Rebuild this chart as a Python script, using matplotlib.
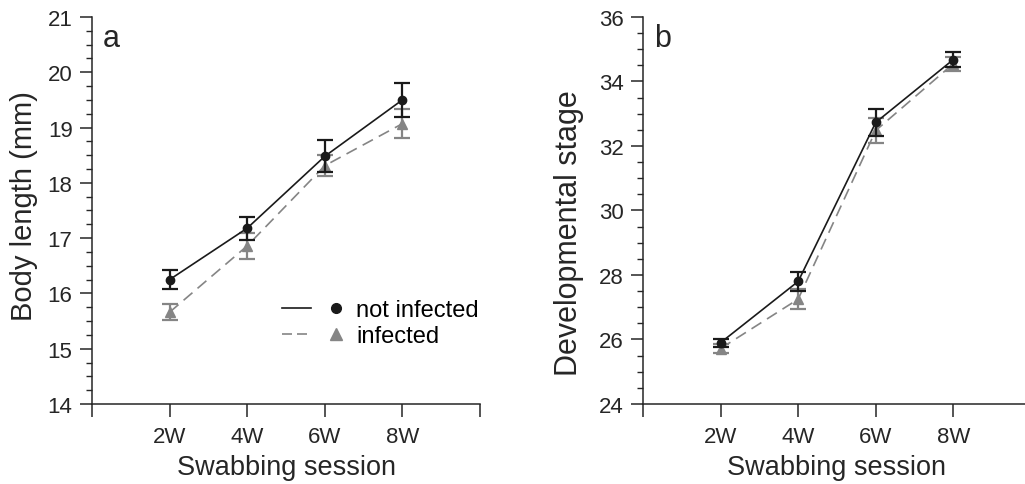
import numpy as np
import matplotlib.pyplot as plt
from matplotlib.lines import Line2D
from matplotlib.legend_handler import HandlerTuple

plt.rcParams['font.family'] = ['Liberation Sans', 'DejaVu Sans']

sessions = ['2W', '4W', '6W', '8W']

# body length (mm)
len_not = [16.25, 17.18, 18.48, 19.50]
len_not_err = [0.17, 0.21, 0.29, 0.31]
len_inf = [15.66, 16.86, 18.31, 19.07]
len_inf_err = [0.15, 0.24, 0.19, 0.26]

# developmental stage
stage_not = [25.90, 27.80, 32.73, 34.68]
stage_not_err = [0.13, 0.30, 0.42, 0.22]
stage_inf = [25.72, 27.25, 32.48, 34.55]
stage_inf_err = [0.15, 0.32, 0.40, 0.22]

black = '#1a1a1a'
grey = '#858585'
ink = '#262626'

fig = plt.figure(figsize=(10.25, 4.85), dpi=100)
ax1 = fig.add_axes([0.0898, 0.165, 0.3785, 0.798])
ax2 = fig.add_axes([0.6273, 0.165, 0.3785, 0.798])

x = np.arange(1, len(sessions) + 1)


def panel(ax, ynot, enot, yinf, einf, ylim, step, minor, ylabel, ysize, lx, ly, letter):
    ax.errorbar(x, ynot, yerr=enot, color=black, lw=1.2, marker='o', ms=6,
                capsize=6, capthick=1.6, elinewidth=1.6, zorder=3)
    ax.errorbar(x, yinf, yerr=einf, color=grey, lw=1.2, marker='^', ms=7,
                capsize=6, capthick=1.6, elinewidth=1.6, dashes=(7, 4), zorder=2)
    ax.set_xlim(0, 5)
    ax.set_ylim(*ylim)
    ax.set_xticks(range(0, 6))
    ax.set_xticklabels([''] + sessions + [''])
    ax.set_yticks(np.arange(ylim[0], ylim[1] + 0.01, step))
    ax.set_yticks(np.arange(ylim[0], ylim[1] + 0.01, minor), minor=True)
    for s in ['top', 'right']:
        ax.spines[s].set_visible(False)
    for s in ['left', 'bottom']:
        ax.spines[s].set_linewidth(1.1)
        ax.spines[s].set_color(ink)
    ax.tick_params(axis='x', length=9, width=1.1, labelsize=16, pad=7, colors=ink)
    ax.tick_params(axis='y', which='major', length=9, width=1.1, labelsize=16, pad=5, colors=ink)
    ax.tick_params(axis='y', which='minor', length=4.5, width=1.0, colors=ink)
    ax.set_xlabel('Swabbing session', fontsize=19.5, color=ink, labelpad=5)
    ax.set_ylabel(ylabel, fontsize=ysize, color=ink)
    ax.yaxis.set_label_coords(lx, ly)
    ax.text(0.028, 0.985, letter, transform=ax.transAxes, fontsize=22,
            va='top', ha='left', color=ink)


panel(ax1, len_not, len_not_err, len_inf, len_inf_err, (14, 21), 1, 0.25,
      'Body length (mm)', 21, -0.14, 0.515, 'a')
panel(ax2, stage_not, stage_not_err, stage_inf, stage_inf_err, (24, 36), 2, 0.5,
      'Developmental stage', 22, -0.152, 0.445, 'b')

h_not = (Line2D([], [], color=black, lw=1.2),
         Line2D([], [], color=black, marker='o', ms=7, ls='none'))
h_inf = (Line2D([], [], color=grey, lw=1.2, dashes=(6, 3)),
         Line2D([], [], color=grey, marker='^', ms=8, ls='none'))
ax1.legend([h_not, h_inf], ['not infected', 'infected'],
           handler_map={tuple: HandlerTuple(ndivide=None, pad=0.4)},
           loc='upper left', bbox_to_anchor=(0.465, 0.295), frameon=False,
           fontsize=17, handlelength=2.9, handletextpad=0.25, labelspacing=0.15,
           borderaxespad=0)

fig.savefig('out.png', dpi=100)
